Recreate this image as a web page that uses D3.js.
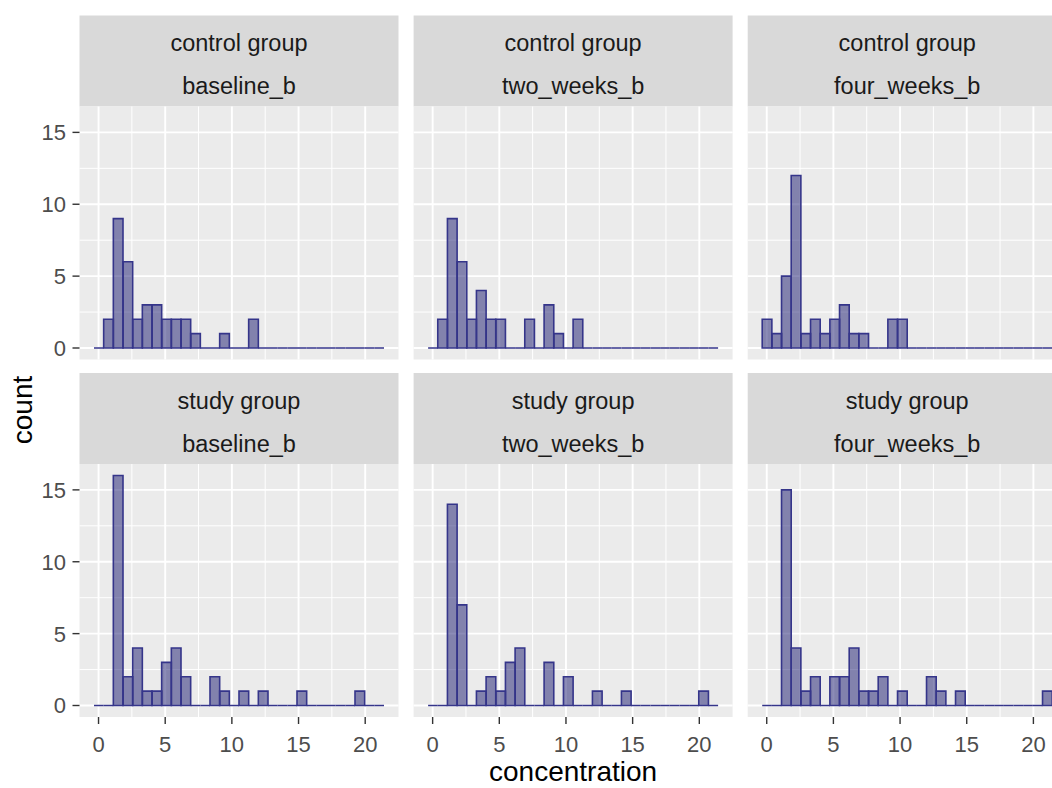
<!DOCTYPE html>
<html>
<head>
<meta charset="utf-8">
<script src="https://cdn.jsdelivr.net/npm/d3@7"></script>
<style>
	body { margin: 0; background: #fff; overflow: hidden; }
	text { font-family: "Liberation Sans", Arial, sans-serif; }
</style>
</head>
<body>
<div id="chart"></div>
<script>
// facet labels
const groups = ["control group", "study group"];
const timepoints = ["baseline_b", "two_weeks_b", "four_weeks_b"];

// histogram bins (30 bins)
const binStart = -0.34;
const binWidth = 0.725;

const controlBaseline = [0,2,9,6,2,3,3,2,2,2,1,0,0,1,0,0,2,0,0,0,0,0,0,0,0,0,0,0,0,0];
const controlTwoWeeks = [0,2,9,6,2,4,2,2,0,0,2,0,3,1,0,2,0,0,0,0,0,0,0,0,0,0,0,0,0,0];
const controlFourWeeks = [2,1,5,12,1,2,1,2,3,1,1,0,0,2,2,0,0,0,0,0,0,0,0,0,0,0,0,0,0,0];
const studyBaseline = [0,0,16,2,4,1,1,3,4,2,0,0,2,1,0,1,0,1,0,0,0,1,0,0,0,0,0,1,0,0];
const studyTwoWeeks = [0,0,14,7,0,1,2,1,3,4,0,0,3,0,2,0,0,1,0,0,1,0,0,0,0,0,0,0,1,0];
const studyFourWeeks = [0,0,15,4,1,2,0,2,2,4,1,1,2,0,1,0,0,2,1,0,1,0,0,0,0,0,0,0,0,1];

const xTicks = [0, 5, 10, 15, 20];
const xMinor = [2.5, 7.5, 12.5, 17.5];
const yTicks = [0, 5, 10, 15];
const yMinor = [2.5, 7.5, 12.5];

const counts = [
	[controlBaseline, controlTwoWeeks, controlFourWeeks],
	[studyBaseline, studyTwoWeeks, studyFourWeeks]
];

const width = 1052;
const height = 788;
const leftX = 79.5;
const panelW = 319;
const colStep = 334.1;
const topY = 15.5;
const stripH = 91;
const panelH = 253;
const rowStep = 357.5;

const svg = d3.select("#chart")
	.append("svg")
	.attr("width", width)
	.attr("height", height);

const binEnd = binStart + binWidth * controlBaseline.length;
const pad = (binEnd - binStart) * 0.05;
const yMax = d3.max(counts.flat(2));

const x = d3.scaleLinear()
	.domain([binStart - pad, binEnd + pad])
	.range([0, panelW]);

const y = d3.scaleLinear()
	.domain([-yMax * 0.05, yMax * 1.05])
	.range([panelH, 0]);

groups.forEach(function(group, r) {
	timepoints.forEach(function(tp, c) {
		const g = svg.append("g")
			.attr("transform", "translate(" + (leftX + c * colStep) + "," + (topY + r * rowStep) + ")");

		// strip
		g.append("rect")
			.attr("width", panelW)
			.attr("height", stripH)
			.attr("fill", "#d9d9d9");
		g.append("text")
			.attr("x", panelW / 2)
			.attr("y", 27.5)
			.attr("dy", "0.35em")
			.attr("text-anchor", "middle")
			.attr("font-size", 23.5)
			.attr("fill", "#1a1a1a")
			.text(group);
		g.append("text")
			.attr("x", panelW / 2)
			.attr("y", 70.5)
			.attr("dy", "0.35em")
			.attr("text-anchor", "middle")
			.attr("font-size", 23.5)
			.attr("fill", "#1a1a1a")
			.text(tp);

		const p = g.append("g")
			.attr("transform", "translate(0," + stripH + ")");

		p.append("rect")
			.attr("width", panelW)
			.attr("height", panelH)
			.attr("fill", "#ebebeb");

		// grid
		p.selectAll(".xminor")
			.data(xMinor)
			.enter()
			.append("line")
			.attr("x1", function(d) { return x(d); })
			.attr("x2", function(d) { return x(d); })
			.attr("y1", 0)
			.attr("y2", panelH)
			.attr("stroke", "#fff")
			.attr("stroke-width", 1);
		p.selectAll(".yminor")
			.data(yMinor)
			.enter()
			.append("line")
			.attr("x1", 0)
			.attr("x2", panelW)
			.attr("y1", function(d) { return y(d); })
			.attr("y2", function(d) { return y(d); })
			.attr("stroke", "#fff")
			.attr("stroke-width", 1);
		p.selectAll(".xmajor")
			.data(xTicks)
			.enter()
			.append("line")
			.attr("x1", function(d) { return x(d); })
			.attr("x2", function(d) { return x(d); })
			.attr("y1", 0)
			.attr("y2", panelH)
			.attr("stroke", "#fff")
			.attr("stroke-width", 1.9);
		p.selectAll(".ymajor")
			.data(yTicks)
			.enter()
			.append("line")
			.attr("x1", 0)
			.attr("x2", panelW)
			.attr("y1", function(d) { return y(d); })
			.attr("y2", function(d) { return y(d); })
			.attr("stroke", "#fff")
			.attr("stroke-width", 1.9);

		// bars (paths so that empty bins still draw their baseline)
		p.selectAll(".bar")
			.data(counts[r][c])
			.enter()
			.append("path")
			.attr("d", function(d, i) {
				const x0 = x(binStart + i * binWidth);
				const x1 = x(binStart + (i + 1) * binWidth);
				return "M" + x0 + "," + y(0) + "V" + y(d) + "H" + x1 + "V" + y(0) + "Z";
			})
			.attr("fill", "rgba(25,25,112,0.5)")
			.attr("stroke", "#35358a")
			.attr("stroke-width", 1.6)
			.attr("stroke-linejoin", "miter");

		// y axis on the first column
		if (c === 0) {
			const ay = p.append("g");
			ay.selectAll("line")
				.data(yTicks)
				.enter()
				.append("line")
				.attr("x1", -7)
				.attr("x2", 0)
				.attr("y1", function(d) { return y(d); })
				.attr("y2", function(d) { return y(d); })
				.attr("stroke", "#333")
				.attr("stroke-width", 1.4);
			ay.selectAll("text")
				.data(yTicks)
				.enter()
				.append("text")
				.attr("x", -13.5)
				.attr("y", function(d) { return y(d); })
				.attr("dy", "0.36em")
				.attr("text-anchor", "end")
				.attr("font-size", 22)
				.attr("fill", "#4d4d4d")
				.text(function(d) { return d; });
		}

		// x axis on the bottom row
		if (r === groups.length - 1) {
			const ax = p.append("g");
			ax.selectAll("line")
				.data(xTicks)
				.enter()
				.append("line")
				.attr("x1", function(d) { return x(d); })
				.attr("x2", function(d) { return x(d); })
				.attr("y1", panelH)
				.attr("y2", panelH + 7)
				.attr("stroke", "#333")
				.attr("stroke-width", 1.4);
			ax.selectAll("text")
				.data(xTicks)
				.enter()
				.append("text")
				.attr("x", function(d) { return x(d); })
				.attr("y", panelH + 34.5)
				.attr("text-anchor", "middle")
				.attr("font-size", 22)
				.attr("fill", "#4d4d4d")
				.text(function(d) { return d; });
		}
	});
});

// axis titles
svg.append("text")
	.attr("transform", "translate(31.5,410) rotate(-90)")
	.attr("text-anchor", "middle")
	.attr("font-size", 28)
	.attr("fill", "#000")
	.text("count");

svg.append("text")
	.attr("x", leftX + (2 * colStep + panelW) / 2)
	.attr("y", 781)
	.attr("text-anchor", "middle")
	.attr("font-size", 28)
	.attr("fill", "#000")
	.text("concentration");
</script>
</body>
</html>
